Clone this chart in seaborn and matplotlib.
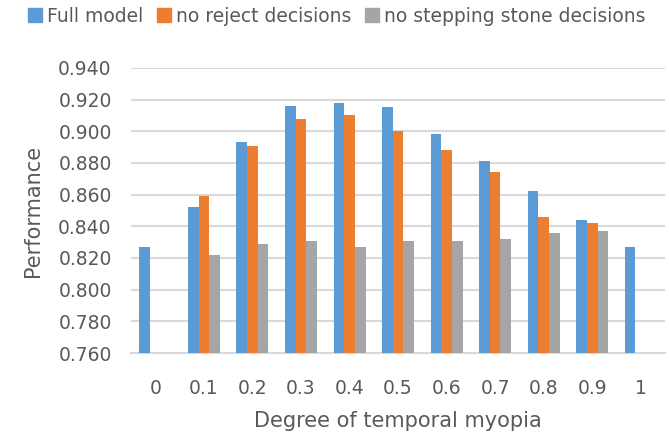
import numpy as np
import pandas as pd
import matplotlib
matplotlib.use("Agg")
import matplotlib.pyplot as plt
import seaborn as sns

# Performance for each degree of temporal myopia
myopia = ["0", "0.1", "0.2", "0.3", "0.4", "0.5", "0.6", "0.7", "0.8", "0.9", "1"]
full_model = [0.827, 0.852, 0.893, 0.916, 0.918, 0.915, 0.898, 0.881, 0.862, 0.844, 0.827]
no_reject = [np.nan, 0.859, 0.891, 0.908, 0.910, 0.900, 0.888, 0.874, 0.846, 0.842, np.nan]
no_stepping = [np.nan, 0.822, 0.829, 0.831, 0.827, 0.831, 0.831, 0.832, 0.836, 0.837, np.nan]

series_names = ["Full model", "no reject decisions", "no stepping stone decisions"]
colors = ["#5B9BD5", "#ED7D31", "#A5A5A5"]

df = pd.DataFrame({
    "myopia": myopia * 3,
    "model": np.repeat(series_names, len(myopia)),
    "performance": full_model + no_reject + no_stepping,
})

sns.set_theme(style="white")
plt.rcParams["font.family"] = ["DejaVu Sans"]
text_color = "#595959"
grid_color = "#D9D9D9"

fig = plt.figure(figsize=(6.69, 4.38), dpi=100)
ax = fig.add_axes([0.196, 0.194, 0.798, 0.651])

sns.barplot(data=df, x="myopia", y="performance", hue="model",
            order=myopia, hue_order=series_names, palette=colors,
            saturation=1, width=0.66, gap=0, errorbar=None, ax=ax,
            legend=False, linewidth=0, zorder=3)

ax.set_ylim(0.76, 0.94)
ax.set_xlim(-0.5, len(myopia) - 0.5)
yt = np.round(np.arange(0.76, 0.9401, 0.02), 2)
ax.set_yticks(yt)
ax.set_yticklabels([f"{v:.3f}" for v in yt])
ax.yaxis.grid(True, color=grid_color, linewidth=1.5, zorder=0)
ax.set_axisbelow(True)
for side in ["top", "right", "left"]:
    ax.spines[side].set_visible(False)
ax.spines["bottom"].set_color(grid_color)
ax.spines["bottom"].set_linewidth(1.5)

ax.tick_params(axis="both", length=0, labelsize=13.5, labelcolor=text_color)
ax.tick_params(axis="x", pad=19)
ax.tick_params(axis="y", pad=14)

ax.set_xlabel("Degree of temporal myopia", fontsize=15, color=text_color, labelpad=9)
ax.set_ylabel("Performance", fontsize=15, color=text_color, labelpad=11)

handles = [plt.Rectangle((0, 0), 1, 1, color=c) for c in colors]
fig.legend(handles, series_names, loc="upper left", bbox_to_anchor=(0.025, 1.01),
           ncol=3, frameon=False, fontsize=13.5, labelcolor=text_color,
           handlelength=0.75, handleheight=0.75, handletextpad=0.25,
           columnspacing=0.75, borderaxespad=0.2)

fig.savefig("out.png", dpi=100)
